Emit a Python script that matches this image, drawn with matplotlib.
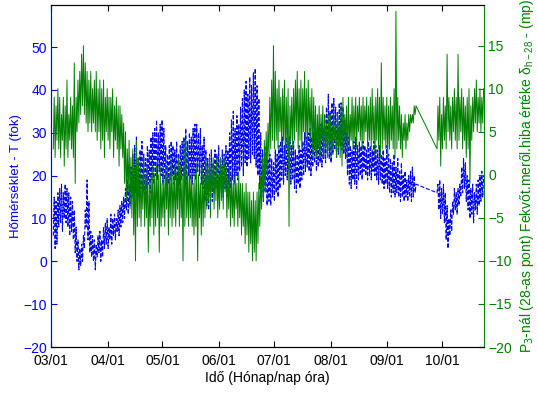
import numpy as np
import matplotlib
matplotlib.use('Agg')
import matplotlib.pyplot as plt

plt.rcParams['font.family'] = ['Liberation Sans', 'DejaVu Sans']

# days counted from 03/01; gap in the record between day 199 and day 211
days = list(range(1, 200)) + list(range(211, 237))

# temperature (fok): daily low / high
temp_low = [6, 3, 4, 8, 9, 7, 10, 9, 8, 6, 7, 5, 2, 0, -2, -1, 0, 3, 8, 5,
            2, 1, 0, -2, 1, 2, 0, 1, 3, 4, 3, 5, 4, 6, 5, 7, 6, 8, 9, 10,
            12, 11, 13, 15, 14, 16, 13, 15, 17, 16, 15, 17, 18, 16, 19, 18, 20, 19, 21, 20,
            18, 19, 17, 18, 19, 20, 18, 19, 17, 18, 19, 20, 19, 18, 20, 19, 18, 20, 19, 21,
            20, 18, 17, 14, 13, 12, 15, 14, 16, 17, 15, 16, 17, 15, 17, 16, 18, 17, 19, 18,
            20, 19, 21, 22, 20, 23, 22, 24, 23, 25, 24, 22, 20, 17, 15, 14, 16, 13, 14, 13,
            15, 14, 16, 15, 17, 19, 18, 20, 19, 21, 18, 19, 17, 16, 18, 17, 19, 20, 21, 22,
            21, 20, 22, 23, 21, 22, 23, 22, 24, 23, 25, 24, 23, 25, 26, 24, 25, 27, 26, 25,
            24, 20, 18, 17, 19, 18, 17, 19, 20, 19, 21, 20, 19, 20, 19, 21, 20, 19, 18, 19,
            18, 17, 18, 17, 16, 15, 16, 15, 16, 15, 14, 15, 14, 15, 14, 15, 14, 15, 16,
            16, 12, 10, 11, 9, 5, 3, 6, 7, 11, 12, 11, 13, 15, 16, 17, 14, 12, 10, 11,
            9, 12, 11, 13, 14, 15]
temp_high = [15, 14, 16, 17, 18, 16, 18, 17, 16, 15, 14, 12, 8, 5, 3, 4, 6, 12, 19, 14,
             7, 6, 5, 4, 6, 7, 5, 8, 9, 10, 8, 11, 10, 11, 10, 12, 13, 14, 15, 17,
             19, 18, 22, 25, 27, 29, 24, 26, 28, 25, 24, 27, 26, 29, 30, 31, 33, 30, 32, 33,
             31, 27, 25, 27, 28, 27, 26, 28, 25, 27, 28, 29, 31, 28, 30, 29, 31, 32, 32, 30,
             31, 27, 29, 26, 24, 25, 26, 23, 26, 25, 27, 24, 26, 25, 27, 26, 30, 33, 35, 31,
             34, 32, 36, 38, 40, 42, 39, 43, 41, 44, 45, 41, 38, 30, 26, 25, 27, 24, 25, 24,
             23, 26, 25, 27, 28, 29, 27, 29, 28, 29, 27, 28, 26, 25, 27, 26, 28, 30, 29, 30,
             31, 29, 30, 31, 29, 30, 32, 31, 34, 36, 39, 35, 37, 38, 36, 35, 37, 37, 36, 33,
             30, 29, 27, 26, 28, 29, 27, 28, 27, 28, 27, 26, 28, 27, 26, 28, 27, 26, 27, 25,
             26, 24, 27, 25, 24, 23, 25, 22, 24, 21, 23, 20, 21, 19, 20, 21, 22, 20, 18,
             18, 19, 17, 18, 16, 13, 10, 12, 14, 17, 16, 17, 18, 22, 24, 23, 20, 19, 17, 18,
             16, 18, 19, 20, 21, 20]

# P3 error (mp): daily low / high
err_low = [3, 2, 4, 3, 2, 4, 1, 3, 2, 4, 3, 2, -1, 5, 6, 7, 8, 7, 6, 5,
           6, 5, 6, 5, 4, 5, 3, 4, 2, 5, 4, 3, 5, 2, 4, 3, 1, 3, 2, -1,
           -3, -2, -4, -5, -7, -10, -6, -5, -6, -4, -6, -5, -9, -6, -5, -7, -6, -5, -9, -6,
           -5, -6, -4, -7, -5, -6, -5, -6, -4, -6, -5, -10, -6, -5, -6, -5, -6, -7, -6, -10,
           -5, -7, -6, -5, -4, -3, -5, -2, -4, -3, -5, -4, -3, -4, -2, -5, -4, -6, -5, -6,
           -4, -6, -5, -7, -6, -8, -7, -9, -8, -10, -9, -10, -8, -6, -4, -3, -2, 0, 2, 3,
           4, 3, 4, 3, 5, 3, 4, 2, 3, -6, 4, 3, 4, 5, 3, 4, 3, 5, 4, 3,
           5, 4, 2, 3, 2, 3, 2, 4, 2, 3, 2, 3, 2, 3, 4, 2, 3, 2, 1, 3,
           4, 2, 3, 4, 3, 4, 3, 5, 4, 3, 4, 5, 3, 4, 3, 4, 2, 4, 3, 2,
           3, 4, 3, 2, 3, 4, 3, 2, 3, 4, 3, 2, 4, 3, 4, 5, 6, 6, 7,
           3, 4, 1, 3, 4, 3, 5, 4, 3, 5, 4, 3, 4, 5, 3, 4, 2, 3, -1, 4,
           5, 6, 5, 6, 5, 6]
err_high = [9, 8, 10, 9, 7, 9, 8, 11, 7, 9, 8, 13, 9, 11, 12, 14, 15, 13, 12, 11,
            12, 10, 11, 12, 10, 11, 10, 11, 9, 10, 9, 9, 10, 8, 9, 8, 8, 7, 6, 5,
            3, 4, 2, 3, 1, 4, 2, 1, 0, 2, 0, 1, -1, 0, 1, 0, 1, 0, 1, -1,
            0, 1, 1, 0, 2, 0, 1, 0, 2, 1, 0, 4, 4, 0, 1, 0, -1, 0, 1, 0,
            -1, 1, 0, 2, 1, 2, 1, 2, 1, 2, 0, 2, 1, 2, 1, 0, 1, 0, -1, 0,
            -1, 0, -1, -1, -2, -1, -2, -2, -3, -2, -3, -2, -1, 0, 2, 4, 5, 6, 9, 11,
            15, 12, 10, 11, 9, 10, 11, 9, 10, 8, 9, 10, 11, 12, 10, 11, 10, 12, 10, 11,
            9, 10, 9, 8, 7, 8, 7, 8, 7, 6, 7, 7, 6, 7, 6, 7, 6, 8, 9, 7,
            8, 9, 7, 9, 8, 9, 8, 9, 8, 9, 8, 9, 8, 9, 10, 8, 9, 10, 9, 13,
            9, 8, 9, 8, 9, 8, 10, 19, 9, 8, 7, 6, 7, 6, 7, 7, 7, 8, 8,
            8, 9, 7, 9, 8, 14, 9, 8, 9, 10, 9, 14, 9, 10, 9, 8, 9, 10, 8, 9,
            10, 11, 9, 10, 9, 10]

month_days = [0, 31, 61, 92, 122, 153, 184, 214]
month_labels = ['03/01', '04/01', '05/01', '06/01', '07/01', '08/01', '09/01', '10/01']

blue = (0, 0, 1)
green = (0, 0.5, 0)


def zigzag(d, lo, hi):
	x = []
	y = []
	for i in range(len(d)):
		x += [d[i] + 0.25, d[i] + 0.75]
		y += [lo[i], hi[i]]
	return np.array(x), np.array(y)


fig = plt.figure(figsize=(5.38, 3.93), dpi=100)
ax1 = fig.add_axes([0.0948, 0.117, 0.805, 0.870])
ax2 = ax1.twinx()

tx, ty = zigzag(days, temp_low, temp_high)
ex, ey = zigzag(days, err_low, err_high)

ax1.plot(tx, ty, '--', color=blue, lw=0.8)
ax2.plot(ex, ey, '-', color=green, lw=0.7)

ax1.set_xlim(0, 237)
ax1.set_ylim(-20, 59.8)
ax2.set_ylim(-20, 19.7)
ax1.set_yticks(range(-20, 51, 10))
ax2.set_yticks(range(-20, 16, 5))
ax1.set_xticks(month_days)
ax1.set_xticklabels(month_labels)

fs = 10
ax1.tick_params(axis='x', direction='in', length=4, top=True, labelsize=fs, colors='black', pad=5)
ax1.tick_params(axis='y', direction='in', length=4, labelsize=fs, colors=blue, pad=3)
ax2.tick_params(axis='y', direction='in', length=4, labelsize=fs, colors=green, pad=3)

ax1.spines['left'].set_color(blue)
ax2.spines['left'].set_color(blue)
ax2.spines['right'].set_color(green)
ax1.spines['right'].set_visible(False)

ax1.set_xlabel('Idő (Hónap/nap óra)', fontsize=fs, labelpad=2)
ax1.set_ylabel('Hőmérséklet - T (fok)', fontsize=9.5, color=blue, labelpad=1)
ax2.set_ylabel('P$_3$-nál (28-as pont) Fekvőt.meről.hiba értéke δ$_{\\mathregular{h-28}}$ - (mp)',
               fontsize=fs, color=green, labelpad=4)

plt.savefig('out.png', dpi=100)
plt.close()
